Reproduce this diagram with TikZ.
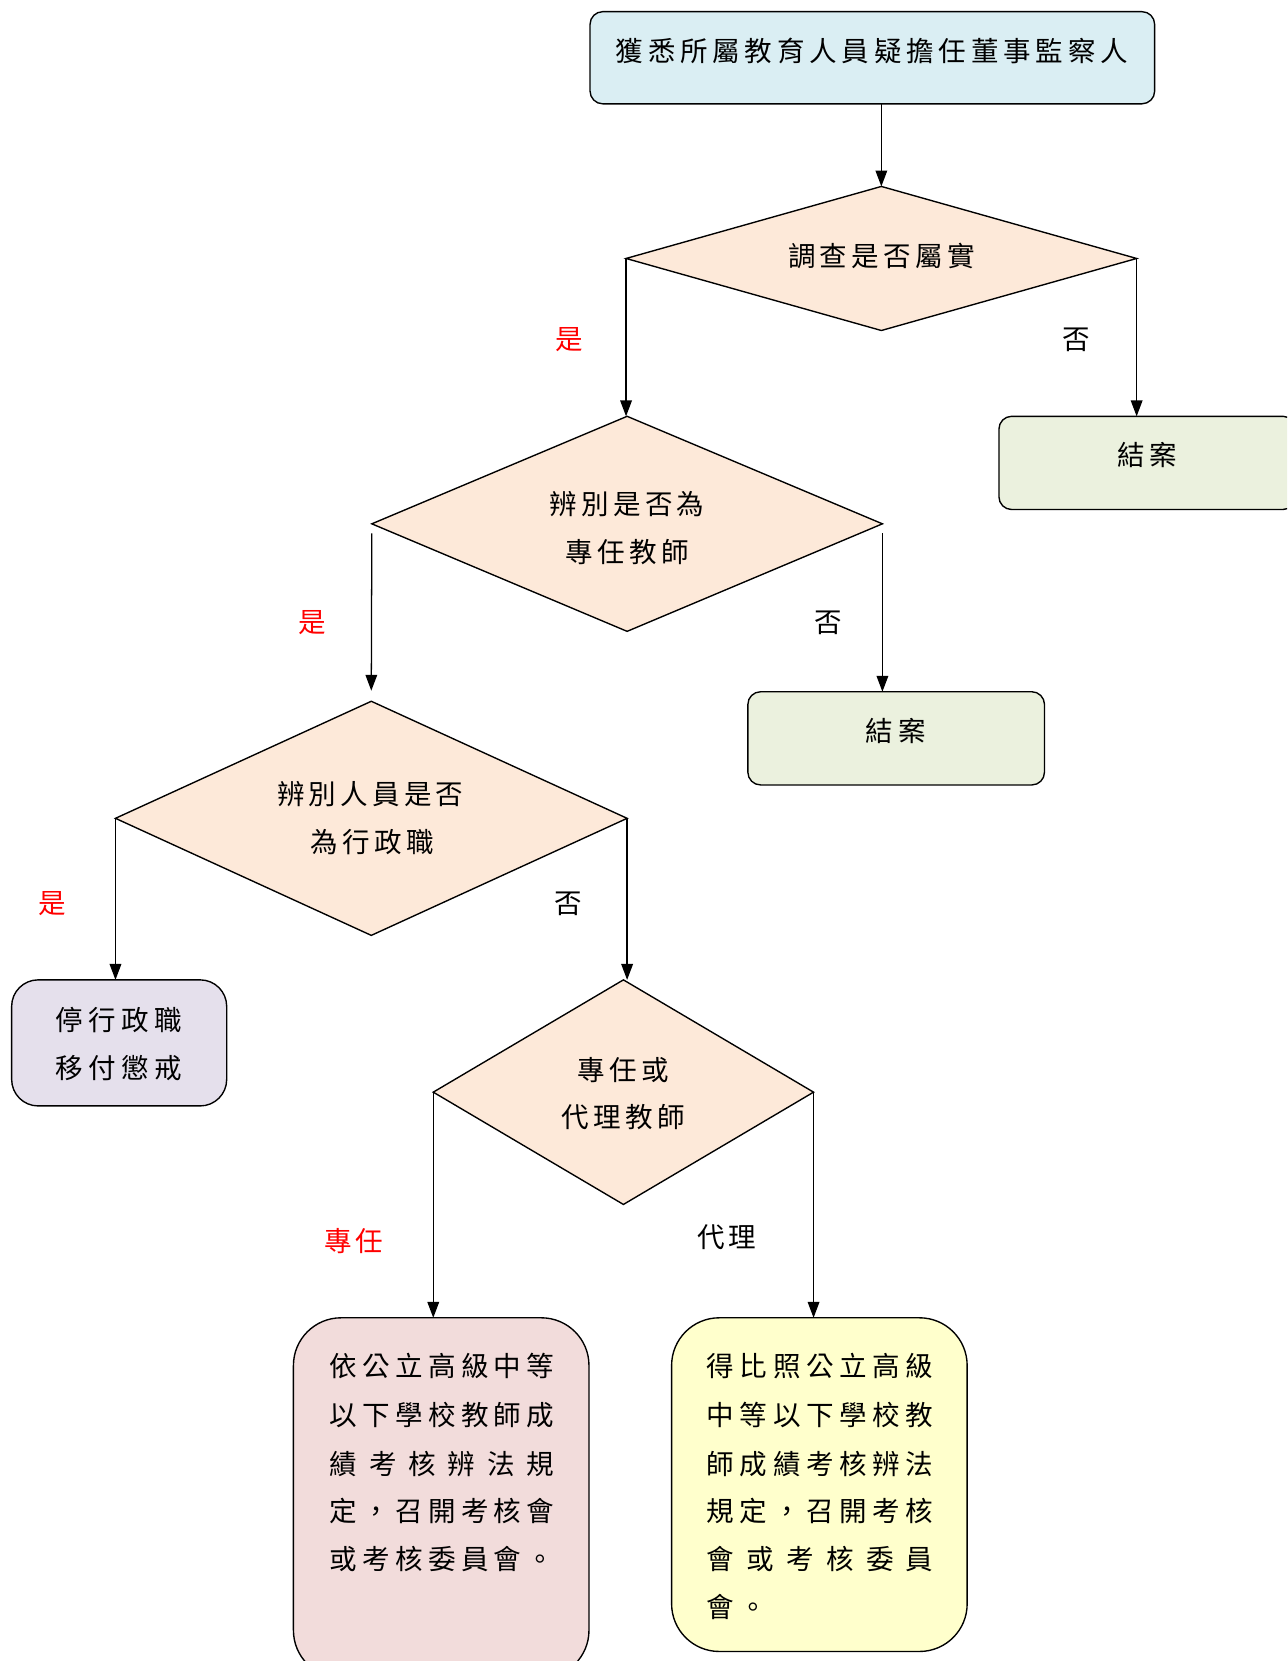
\documentclass[tikz,border=0pt]{standalone}
\usepackage{fontspec}
\newfontfamily\cjk{Noto Sans CJK TC}
\usetikzlibrary{shapes.geometric,arrows.meta}
\ExplSyntaxOn
\NewDocumentCommand\cjsp{mm}{\tl_map_inline:nn{#2}{##1\hspace{#1}}\unskip}
\NewDocumentCommand\cjfill{mm}{\makebox[#1][s]{\tl_map_inline:nn{#2}{##1\hfil}\unskip}}
\ExplSyntaxOff
\definecolor{topfill}{HTML}{DAEEF3}
\definecolor{endfill}{HTML}{EBF1DE}
\definecolor{stopfill}{HTML}{E5E0EC}
\definecolor{diafill}{HTML}{FDE9D9}
\definecolor{pinkfill}{HTML}{F2DCDB}
\definecolor{yelfill}{HTML}{FFFFCC}
\definecolor{redlab}{HTML}{FF0000}
\tikzset{
  box/.style={draw, line width=1.3pt, rounded corners=#1, inner sep=0pt, outer sep=0pt},
  box/.default=12pt,
  dia/.style={diamond, draw, line width=1.3pt, fill=diafill, inner sep=0pt, outer sep=0pt},
  txt/.style={font=\cjk\fontsize{26}{26}\selectfont, inner sep=0pt, text height=0.84em, text depth=0.1em, yshift=-6pt},
  redtxt/.style={txt, text=redlab},
  arr/.style={line width=1.2pt, -{Triangle[length=15pt,width=11pt]}}
}
\begin{document}
\begin{tikzpicture}[x=1pt,y=-1pt]
\clip (0,0) rectangle (1215,1568);
\fill[white] (0,0) rectangle (1215,1568);

% top box
\node[box=12pt, fill=topfill, minimum width=533pt, minimum height=87pt] (top) at (823.5,54.5) {};
\node[txt] (toptxt) at (823,48) {\cjsp{4.5pt}{獲悉所屬教育人員疑擔任董事監察人}};

% diamond 1
\node[dia, minimum width=482pt, minimum height=136pt] (d1) at (832,244) {};
\node[txt] (d1t) at (832,242) {\cjsp{4pt}{調查是否屬實}};

% end box 1
\node[box=12pt, fill=endfill, minimum width=280pt, minimum height=88pt] (e1) at (1083,437) {};
\node[txt] (e1t) at (1083,430) {\cjsp{5pt}{結案}};

% diamond 2
\node[dia, minimum width=482pt, minimum height=203pt] (d2) at (592,494.5) {};
\node[txt] (d2a) at (592,476) {\cjsp{4pt}{辨別是否為}};
\node[txt] (d2b) at (592,521) {\cjsp{4pt}{專任教師}};

% end box 2
\node[box=12pt, fill=endfill, minimum width=280pt, minimum height=88pt] (e2) at (846,697) {};
\node[txt] (e2t) at (846,690) {\cjsp{5pt}{結案}};

% diamond 3
\node[dia, minimum width=483pt, minimum height=221pt] (d3) at (350.5,772.5) {};
\node[txt] (d3a) at (349.5,750) {\cjsp{4pt}{辨別人員是否}};
\node[txt] (d3b) at (351.5,795) {\cjsp{4pt}{為行政職}};

% stop box
\node[box=25pt, fill=stopfill, minimum width=203pt, minimum height=119pt] (s) at (112.5,984.5) {};
\node[txt] (s1) at (112,963) {\cjsp{5pt}{停行政職}};
\node[txt] (s2) at (112,1008) {\cjsp{5pt}{移付懲戒}};

% diamond 4
\node[dia, minimum width=359pt, minimum height=212pt] (d4) at (588.5,1031) {};
\node[txt] (d4a) at (588.5,1010) {\cjsp{4pt}{專任或}};
\node[txt] (d4b) at (588.5,1055) {\cjsp{4pt}{代理教師}};

% pink box
\node[box=45pt, fill=pinkfill, minimum width=279pt, minimum height=340pt] (p) at (416.5,1414) {};
\node[txt, anchor=west] (p1) at (311,1290) {\cjfill{212pt}{依公立高級中等}};
\node[txt, anchor=west] (p2) at (311,1336) {\cjfill{212pt}{以下學校教師成}};
\node[txt, anchor=west] (p3) at (311,1382) {\cjfill{212pt}{績考核辨法規}};
\node[txt, anchor=west] (p4) at (311,1427) {\cjfill{212pt}{定，召開考核會}};
\node[txt, anchor=west] (p5) at (311,1472) {\cjfill{212pt}{或考核委員會。}};

% yellow box
\node[box=45pt, fill=yelfill, minimum width=279pt, minimum height=315pt] (yb) at (773.5,1401.5) {};
\node[txt, anchor=west] (y1) at (667,1290) {\cjfill{214pt}{得比照公立高級}};
\node[txt, anchor=west] (y2) at (667,1336) {\cjfill{214pt}{中等以下學校教}};
\node[txt, anchor=west] (y3) at (667,1382) {\cjfill{214pt}{師成績考核辨法}};
\node[txt, anchor=west] (y4) at (667,1427) {\cjfill{214pt}{規定，召開考核}};
\node[txt, anchor=west] (y5) at (667,1472) {\cjfill{214pt}{會或考核委員}};
\node[txt, anchor=west] (y6) at (667,1517) {\cjsp{5pt}{會。}};

% connectors
\draw[arr] (top.south -| d1.north) -- (d1.north);
\draw[arr] (d1.west) -- (d1.west |- d2.north);
\draw[arr] (d1.east) -- (d1.east |- e1.north);
\draw[arr] ([yshift=-9pt]d2.west) -- ([yshift=10pt]d3.north);
\draw[arr] ([yshift=-9pt]d2.east) -- (d2.east |- e2.north);
\draw[arr] (d3.west) -- (d3.west |- s.north);
\draw[arr] (d3.east) -- (d3.east |- d4.north);
\draw[arr] (d4.west) -- (d4.west |- p.north);
\draw[arr] (d4.east) -- (d4.east |- yb.north);

% labels
\node[redtxt] (l1) at (537,320) {是};
\node[txt] (l2) at (1016,320) {否};
\node[redtxt] (l3) at (295,587) {是};
\node[txt] (l4) at (782,587) {否};
\node[redtxt] (l5) at (49,853) {是};
\node[txt] (l6) at (536,853) {否};
\node[redtxt] (l7) at (334,1172) {\cjsp{4pt}{專任}};
\node[txt] (l8) at (686,1168) {\cjsp{4pt}{代理}};
\end{tikzpicture}
\end{document}
